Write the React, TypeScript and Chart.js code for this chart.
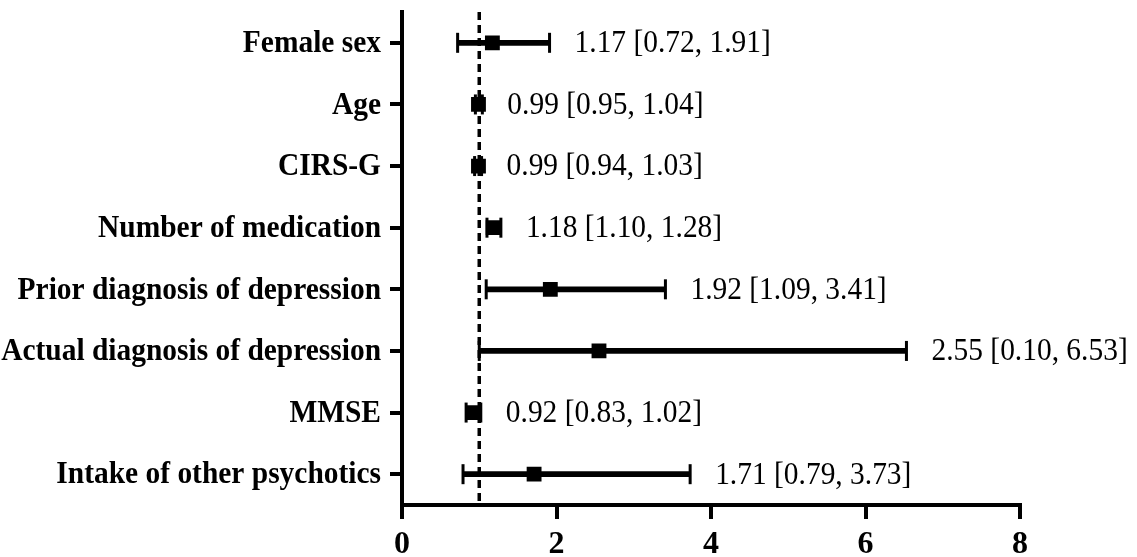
import React, { useEffect, useRef } from "react";
import { Chart, registerables } from "chart.js";

Chart.register(...registerables);

const categories = [
  "Female sex",
  "Age",
  "CIRS-G",
  "Number of medication",
  "Prior diagnosis of depression",
  "Actual diagnosis of depression",
  "MMSE",
  "Intake of other psychotics",
];
const oddsRatio = [1.17, 0.99, 0.99, 1.18, 1.92, 2.55, 0.92, 1.71];
const ciLower = [0.72, 0.95, 0.94, 1.1, 1.09, 1.0, 0.83, 0.79];
const ciUpper = [1.91, 1.04, 1.03, 1.28, 3.41, 6.53, 1.02, 3.73];
const valueTexts = [
  "1.17 [0.72, 1.91]",
  "0.99 [0.95, 1.04]",
  "0.99 [0.94, 1.03]",
  "1.18 [1.10, 1.28]",
  "1.92 [1.09, 3.41]",
  "2.55 [0.10, 6.53]",
  "0.92 [0.83, 1.02]",
  "1.71 [0.79, 3.73]",
];
const xTicks = [0, 2, 4, 6, 8];
const referenceValue = 1;

const SERIF = "'Liberation Serif', 'Times New Roman', serif";
const CONDENSE = 0.92;

const forestPlugin = {
  id: "forest",
  beforeDatasetsDraw(chart: any) {
    const { ctx, chartArea, scales } = chart;
    const x = scales.x.getPixelForValue(referenceValue);
    ctx.save();
    ctx.strokeStyle = "#000";
    ctx.lineWidth = 3.5;
    ctx.setLineDash([8, 5]);
    ctx.beginPath();
    ctx.moveTo(x, chartArea.top);
    ctx.lineTo(x, chartArea.bottom);
    ctx.stroke();
    ctx.restore();
  },
  afterDatasetsDraw(chart: any) {
    const { ctx, scales, chartArea } = chart;
    ctx.save();
    ctx.strokeStyle = "#000";
    ctx.lineWidth = 3;
    categories.forEach((c, i) => {
      const y = scales.y.getPixelForValue(i);
      [ciLower[i], ciUpper[i]].forEach((v) => {
        const x = scales.x.getPixelForValue(v);
        ctx.beginPath();
        ctx.moveTo(x, y - 10);
        ctx.lineTo(x, y + 10);
        ctx.stroke();
      });
    });
    ctx.fillStyle = "#000";
    ctx.textBaseline = "middle";
    // value annotations
    ctx.font = `32px ${SERIF}`;
    ctx.textAlign = "left";
    categories.forEach((c, i) => {
      const y = scales.y.getPixelForValue(i);
      const x = scales.x.getPixelForValue(ciUpper[i]) + 25;
      ctx.save();
      ctx.translate(x, y + 1);
      ctx.scale(CONDENSE, 1);
      ctx.fillText(valueTexts[i], 0, 0);
      ctx.restore();
    });
    // category labels
    ctx.font = `bold 32px ${SERIF}`;
    ctx.textAlign = "right";
    categories.forEach((c, i) => {
      const y = scales.y.getPixelForValue(i);
      ctx.save();
      ctx.translate(chartArea.left - 21, y + 1);
      ctx.scale(CONDENSE, 1);
      ctx.fillText(c, 0, 0);
      ctx.restore();
    });
    ctx.restore();
  },
};

export default function App() {
  const ref = useRef<HTMLCanvasElement>(null);
  useEffect(() => {
    document.body.style.margin = "0";
    const canvas = ref.current!;
    const chart = new Chart(canvas, {
      type: "bar",
      data: {
        labels: categories,
        datasets: [
          {
            type: "bar",
            data: categories.map((_, i) => [ciLower[i], ciUpper[i]]) as any,
            backgroundColor: "#000",
            barThickness: 5,
            borderWidth: 0,
            order: 2,
          } as any,
          {
            type: "line",
            data: oddsRatio,
            showLine: false,
            pointStyle: "rect",
            pointRadius: 10.5,
            pointBackgroundColor: "#000",
            pointBorderColor: "#000",
            pointBorderWidth: 0,
            indexAxis: "y",
            order: 1,
          } as any,
        ],
      },
      options: {
        indexAxis: "y",
        responsive: false,
        animation: false,
        events: [],
        layout: { padding: { top: 12, right: 117, left: 0, bottom: 0 } },
        plugins: {
          legend: { display: false },
          tooltip: { enabled: false },
        },
        scales: {
          x: {
            type: "linear",
            min: 0,
            max: 8,
            afterBuildTicks: (s: any) => {
              s.ticks = xTicks.map((v) => ({ value: v }));
            },
            afterFit: (s: any) => {
              s.height = 52;
            },
            ticks: {
              color: "#000",
              padding: 7,
              font: { family: SERIF, size: 32, weight: "bold" },
            },
            grid: {
              drawOnChartArea: false,
              drawTicks: true,
              tickLength: 14,
              lineWidth: 4,
              color: "#000",
            },
            border: { display: true, width: 4, color: "#000" },
          },
          y: {
            type: "category",
            offset: true,
            afterFit: (s: any) => {
              s.width = 402;
              s.paddingTop = 0;
              s.paddingBottom = 0;
            },
            ticks: { display: false },
            grid: {
              offset: false,
              drawOnChartArea: false,
              drawTicks: true,
              tickLength: 12,
              lineWidth: 4,
              color: "#000",
            },
            border: { display: true, width: 4, color: "#000" },
          },
        },
      },
      plugins: [forestPlugin],
    } as any);
    return () => chart.destroy();
  }, []);
  return (
    <div style={{ width: 1137, height: 557 }}>
      <canvas ref={ref} width={1137} height={557} />
    </div>
  );
}
